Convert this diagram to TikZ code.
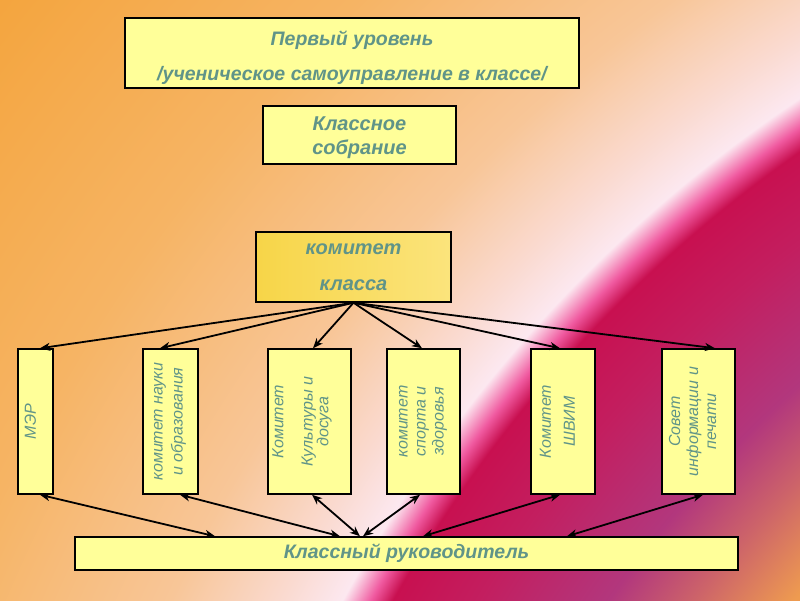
\documentclass[tikz,border=0pt]{standalone}
\usepackage{fontspec}
\setmainfont{Liberation Sans}
\usetikzlibrary{arrows.meta,calc}
\definecolor{r0}{RGB}{238,155,80}
\definecolor{r1}{RGB}{205,100,105}
\definecolor{r2}{RGB}{178,55,125}
\definecolor{r3}{RGB}{195,30,95}
\definecolor{r4}{RGB}{200,16,80}
\definecolor{r5}{RGB}{240,90,160}
\definecolor{r6}{RGB}{252,232,240}
\definecolor{r7}{RGB}{250,218,208}
\definecolor{r8}{RGB}{248,198,152}
\definecolor{r9}{RGB}{246,180,100}
\definecolor{r10}{RGB}{244,164,60}
\definecolor{boxyel}{RGB}{255,255,153}
\definecolor{kkleft}{RGB}{247,213,72}
\definecolor{kkright}{RGB}{251,228,124}
\definecolor{txt}{RGB}{96,148,136}
\pgfdeclareradialshading{bgshade}{\pgfpointorigin}{color(0bp)=(r0); color(1023bp)=(r0); color(1100bp)=(r1); color(1170bp)=(r2); color(1280bp)=(r3); color(1353bp)=(r4); color(1372bp)=(r5); color(1397bp)=(r6); color(1450bp)=(r7); color(1550bp)=(r8); color(1750bp)=(r9); color(2030bp)=(r10)}
\newcommand\vtext[2]{\raisebox{#1}[\height][\depth]{\begin{tabular}{@{}c@{}}#2\end{tabular}}}
\begin{document}
\begin{tikzpicture}[x=1pt,y=-1pt,
  box/.style={draw=black, line width=1.5pt, fill=boxyel, text=txt, inner sep=0pt, align=center},
  vbox/.style={box, rotate=90, minimum width=145pt},
  arr/.style={line width=1.8pt, -{Stealth[length=10pt,width=8pt,inset=3pt]}},
  darr/.style={line width=1.8pt, {Stealth[length=10pt,width=8pt,inset=3pt]}-{Stealth[length=10pt,width=8pt,inset=3pt]}}]
\useasboundingbox (0,0) rectangle (800,600);
\begin{scope}
  \clip (0,0) rectangle (800,600);
  \node[inner sep=0pt] (bg) at (1577,1265) {\pgfuseshading{bgshade}};
\end{scope}
% upper boxes
\node[box, minimum width=454pt, minimum height=70pt,
      font=\bfseries\itshape\fontsize{19.5}{35}\selectfont] (top) at (352,53)
      {\vtext{-2.5pt}{Первый уровень\\/ученическое самоуправление в классе/}};
\node[box, minimum width=193pt, minimum height=58pt,
      font=\bfseries\itshape\fontsize{20}{24}\selectfont] (ks) at (359.5,135)
      {\vtext{-2.5pt}{Классное\\собрание}};
\node[box, left color=kkleft, right color=kkright, minimum width=195pt, minimum height=70pt,
      font=\bfseries\itshape\fontsize{20}{36}\selectfont] (kk) at (353.5,267)
      {комитет\\класса};
% vertical boxes
\node[vbox, minimum height=35pt, font=\itshape\fontsize{16}{17}\selectfont] (mer) at (35.5,421.5)
      {\vtext{3pt}{МЭР}};
\node[vbox, minimum height=55pt, font=\itshape\fontsize{16}{20}\selectfont] (nauki) at (170.5,421.5)
      {\vtext{2pt}{комитет науки\\и образования}};
\node[vbox, minimum height=83pt, font=\itshape\fontsize{16}{14}\selectfont] (kult) at (309.5,421.5)
      {\vtext{7pt}{Комитет\\[14pt]Культуры и\\досуга}};
\node[vbox, minimum height=73pt, font=\itshape\fontsize{16}{18}\selectfont] (sport) at (423.5,421.5)
      {\vtext{1.5pt}{комитет\\спорта и\\здоровья}};
\node[vbox, minimum height=64pt, font=\itshape\fontsize{16}{24}\selectfont] (shvim) at (563,421.5)
      {\vtext{5pt}{Комитет\\ШВИМ}};
\node[vbox, minimum height=73pt, font=\itshape\fontsize{16}{18}\selectfont] (sovet) at (698.5,421.5)
      {\vtext{4pt}{Совет\\информации и\\печати}};
% bottom box
\node[box, minimum width=663pt, minimum height=33pt,
      font=\bfseries\itshape\fontsize{19.5}{20}\selectfont] (kr) at (406.5,553.5)
      {Классный руководитель};
% fan-out arrows
\draw[arr] (kk.south) -- ([xshift=4.5pt]mer.east);
\draw[arr] (kk.south) -- ([xshift=-10.5pt]nauki.east);
\draw[arr] (kk.south) -- ([xshift=3.5pt]kult.east);
\draw[arr] (kk.south) -- ([xshift=-1.5pt]sport.east);
\draw[arr] (kk.south) -- ([xshift=-3pt]shvim.east);
\draw[arr] (kk.south) -- ([xshift=16.5pt]sovet.east);
% double arrows to the class teacher
\draw[darr] ([xshift=4.5pt]mer.west) -- ([xshift=-191.5pt]kr.north);
\draw[darr] ([xshift=9.5pt]nauki.west) -- ([xshift=-66.5pt]kr.north);
\draw[darr] ([xshift=2.5pt]kult.west) -- ([xshift=-46.5pt]kr.north);
\draw[darr] ([xshift=-3.5pt]sport.west) -- ([xshift=-43.5pt]kr.north);
\draw[darr] ([xshift=-3pt]shvim.west) -- ([xshift=16.5pt]kr.north);
\draw[darr] ([xshift=4.5pt]sovet.west) -- ([xshift=160.5pt]kr.north);
\end{tikzpicture}
\end{document}
